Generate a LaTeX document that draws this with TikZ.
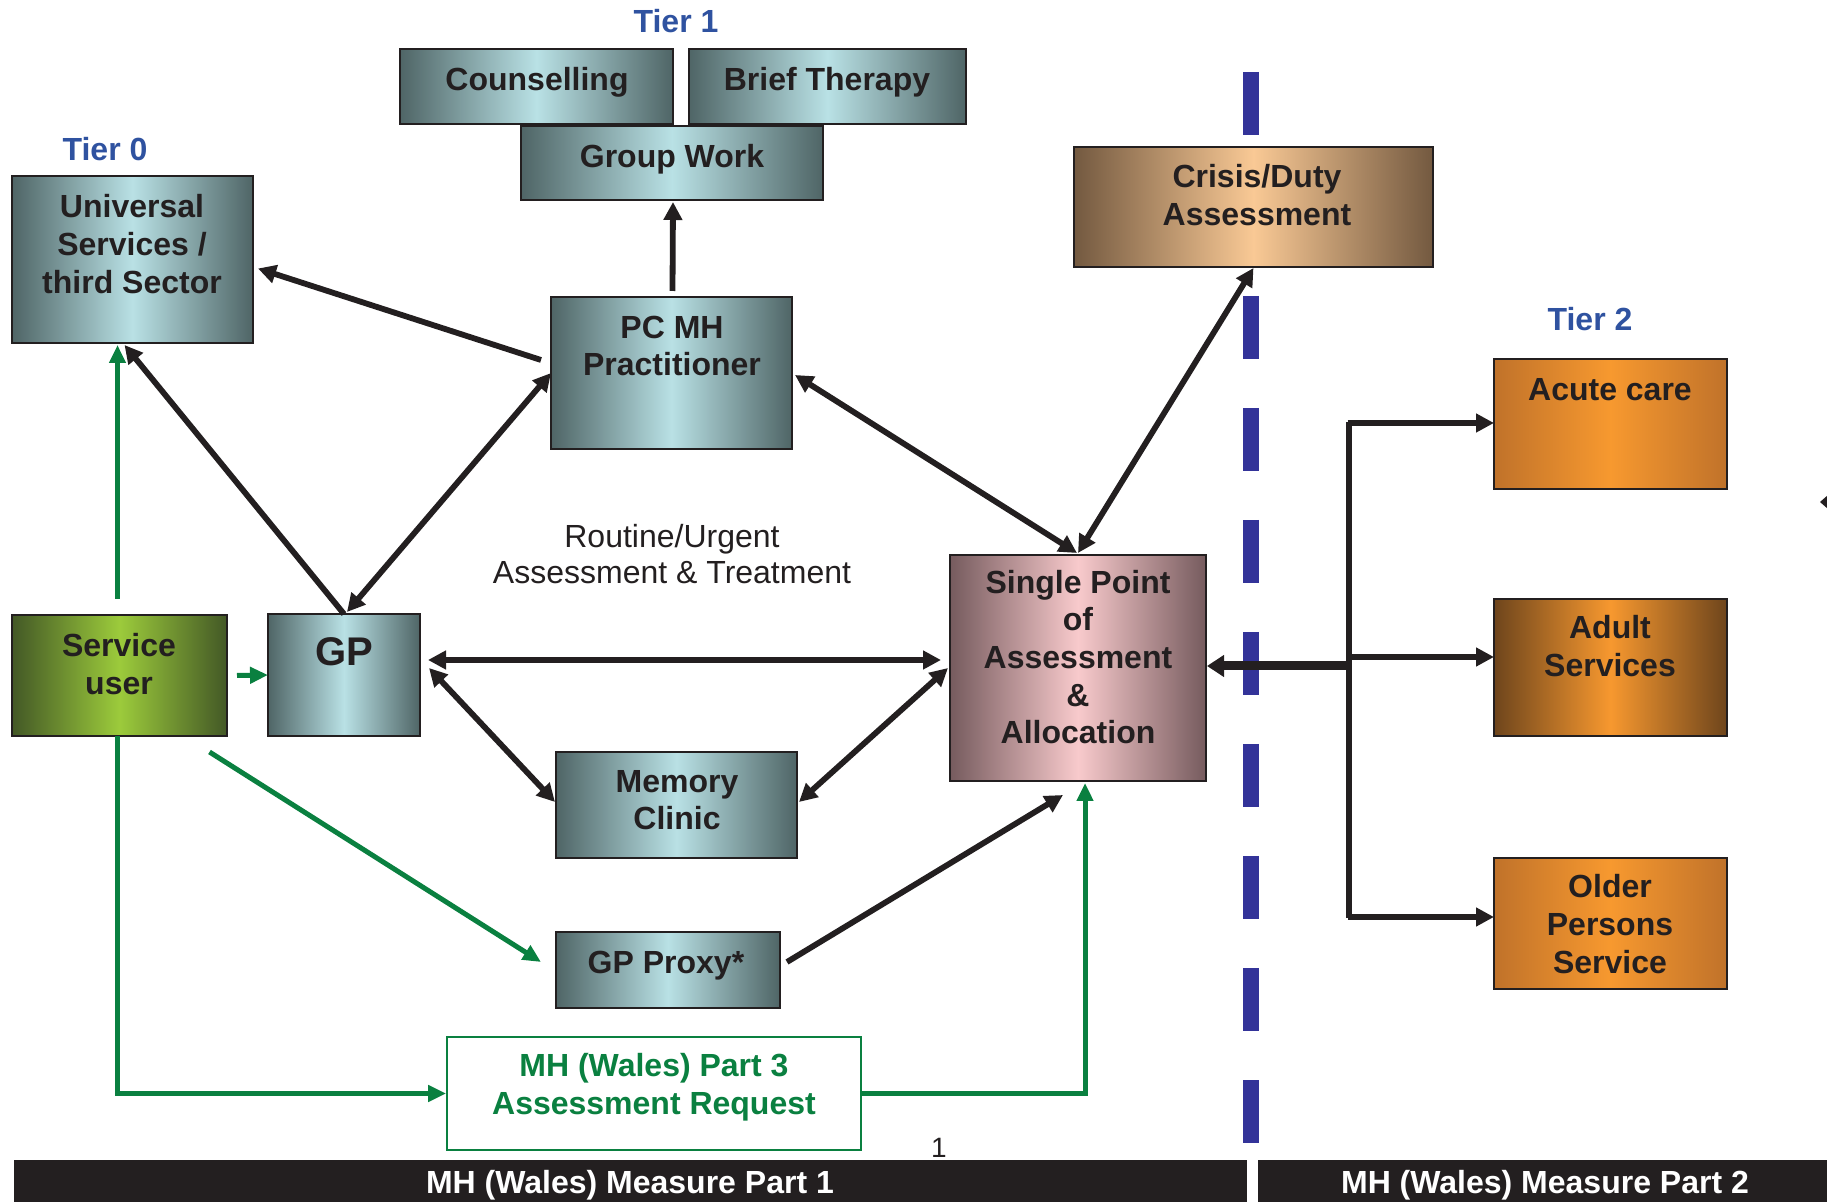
\documentclass[tikz,border=0pt]{standalone}
\usepackage{fontspec}
\setmainfont{Liberation Sans}
\usetikzlibrary{arrows.meta,fit,calc}
\definecolor{ink}{HTML}{231F20}
\definecolor{tdark}{HTML}{4F6566}
\definecolor{tlight}{HTML}{B9E1E5}
\definecolor{cdark}{HTML}{735940}
\definecolor{clight}{HTML}{F9C995}
\definecolor{sdark}{HTML}{765B5E}
\definecolor{slight}{HTML}{F8CACC}
\definecolor{udark}{HTML}{435826}
\definecolor{ulight}{HTML}{9CCB3B}
\definecolor{adark}{HTML}{C0722A}
\definecolor{alight}{HTML}{F7992F}
\definecolor{bdark}{HTML}{6E451C}
\definecolor{blight}{HTML}{F7982F}
\definecolor{sgreen}{HTML}{0A8040}
\definecolor{tierblue}{HTML}{2F52A0}
\definecolor{dashblue}{HTML}{333399}
\begin{document}
\begin{tikzpicture}[x=0.5pt,y=-0.5pt,
  box/.style={draw=ink, line width=1pt, inner sep=0pt, outer sep=0pt},
  tealbox/.style={box, left color=tdark, right color=tdark, middle color=tlight},
  crisisbox/.style={box, left color=cdark, right color=cdark, middle color=clight},
  spoabox/.style={box, left color=sdark, right color=sdark, middle color=slight},
  userbox/.style={box, left color=udark, right color=udark, middle color=ulight},
  orangebox/.style={box, left color=adark, right color=adark, middle color=alight},
  brownbox/.style={box, left color=bdark, right color=bdark, middle color=blight},
  lbl/.style={font=\bfseries\fontsize{16}{18.8}\selectfont, text=ink, align=center, inner sep=0pt},
  tier/.style={font=\bfseries\fontsize{16}{19}\selectfont, text=tierblue, inner sep=0pt},
  arr/.style={draw=ink, line width=2.9pt, -{Triangle[length=9pt,width=9pt]}},
  darr/.style={draw=ink, line width=2.9pt, {Triangle[length=9pt,width=9pt]}-{Triangle[length=9pt,width=9pt]}},
  garr/.style={draw=sgreen, line width=2.5pt, -{Triangle[length=9pt,width=8pt]}},
  busline/.style={draw=ink, line width=2.6pt},
  thickarr/.style={draw=ink, line width=4.5pt, -{Triangle[length=8.5pt,width=10.5pt]}}
]
\useasboundingbox (0,0) rectangle (1827,1202);

% dashed divider
\draw[dashblue, line width=8pt, dash pattern=on 31.5pt off 24.5pt] (1251,72) -- (1251,1143);

% boxes
\node[tealbox, fit={(400,49)(673,124)}] (cou) {};
\node[tealbox, fit={(689,49)(966,124)}] (brief) {};
\node[tealbox, fit={(521,126)(823,200)}] (group) {};
\node[tealbox, fit={(12,176)(253,343)}] (univ) {};
\node[tealbox, fit={(551,297)(792,449)}] (pcmh) {};
\node[crisisbox, fit={(1074,147)(1433,267)}] (crisis) {};
\node[orangebox, fit={(1494,359)(1727,489)}] (acute) {};
\node[brownbox, fit={(1494,599)(1727,736)}] (adult) {};
\node[orangebox, fit={(1494,858)(1727,989)}] (older) {};
\node[spoabox, fit={(950,555)(1206,781)}] (spoa) {};
\node[userbox, fit={(12,615)(227,736)}] (su) {};
\node[tealbox, fit={(268,614)(420,736)}] (gp) {};
\node[tealbox, fit={(556,752)(797,858)}] (mem) {};
\node[tealbox, fit={(556,932)(780,1008)}] (proxy) {};
\node[draw=sgreen, line width=0.8pt, fill=white, inner sep=0pt, fit={(447,1037)(861,1150)}] (p3) {};
\node[fill=ink, inner sep=0pt, fit={(14,1160)(1247,1202)}] (bar1) {};
\node[fill=ink, inner sep=0pt, fit={(1258,1160)(1827,1202)}] (bar2) {};

% texts
\node[tier] (t1) at (676,21) {Tier 1};
\node[tier] (t0) at (105,149) {Tier 0};
\node[tier] (t2) at (1590,319) {Tier 2};
\node[lbl] (coutxt) at (537,82) {Counselling};
\node[lbl] (brieftxt) at (827,82) {Brief Therapy};
\node[lbl] (grouptxt) at (672,159) {Group Work};
\node[lbl] (univtxt) at (132,244) {Universal\\Services /\\third Sector};
\node[lbl] (pcmhtxt) at (672,346) {PC MH\\Practitioner};
\node[lbl] (crisistxt) at (1257,195) {Crisis/Duty\\Assessment};
\node[lbl] (acutetxt) at (1610,390) {Acute care};
\node[lbl] (adulttxt) at (1610,646) {Adult\\Services};
\node[lbl] (oldertxt) at (1610,924) {Older\\Persons\\Service};
\node[lbl] (spoatxt) at (1078,657) {Single Point\\of\\Assessment\\\&\\Allocation};
\node[lbl] (sutxt) at (119,664) {Service\\user};
\node[lbl, font=\bfseries\fontsize{20}{24}\selectfont] (gptxt) at (344,652) {GP};
\node[lbl] (memtxt) at (677,800) {Memory\\Clinic};
\node[lbl] (proxytxt) at (666,966) {GP Proxy*};
\node[lbl, text=sgreen] (p3txt) at (654,1087) {MH (Wales) Part 3\\Assessment Request};
\node[lbl, font=\fontsize{16}{18}\selectfont] (routine) at (672,554) {Routine/Urgent\\Assessment \& Treatment};
\node[inner sep=0pt, font=\fontsize{14}{16}\selectfont, text=ink] (pagenum) at (939,1148) {1};
\node[lbl, text=white] (bar1txt) at (630,1185) {MH (Wales) Measure Part 1};
\node[lbl, text=white] (bar2txt) at (1545,1185) {MH (Wales) Measure Part 2};

% black connectors
\draw[arr] ($(pcmh.north)+(1,-6)$) -- ($(group.south)+(1,2)$);
\draw[arr] ($(pcmh.west)+(-10,-13)$) -- ($(univ.east)+(5,9)$);
\draw[arr] (gp.north) -- ($(univ.south)+(-8,2)$);
\draw[darr] (pcmh.west) -- ($(gp.north)+(3,-2)$);
\draw[darr] ($(pcmh.east)+(3,2)$) -- ($(spoa.north)+(-1,-2)$);
\draw[darr] ($(crisis.south)+(0,1)$) -- ($(spoa.north)+(0,-2)$);
\coordinate (h1) at ($(gp.east)+(8,-15)$);
\draw[darr] (h1) -- ($(h1 -| spoa.west)+(-9,0)$);
\draw[darr] ($(gp.east)+(9,-7)$) -- ($(mem.west)+(-1,-3)$);
\draw[darr] ($(spoa.west)+(-2,0)$) -- ($(mem.east)+(2,-3)$);
\draw[arr] ($(proxy.east)+(7,-8)$) -- ($(spoa.south)+(-15,14)$);

% green connectors
\coordinate (g1) at ($(su.north)+(-2,-16)$);
\draw[garr] (g1) -- ($(g1 |- univ.south)+(0,2)$);
\draw[garr] ($(su.east)+(10,0)$) -- (gp.west);
\draw[garr] ($(su.south)+(90,16)$) -- ($(proxy.west)+(-15,-8)$);
\draw[garr] ($(su.south)+(-2,0)$) |- (p3.west);
\draw[garr] (p3.east) -| ($(spoa.south)+(7,2)$);

% right bus
\coordinate (b1) at (1349,423);
\coordinate (b2) at (1349,657);
\coordinate (b3) at (1349,917);
\coordinate (b0) at (1349,666);
\draw[busline] ($(b1)+(0,-1.4)$) -- ($(b3)+(0,1.4)$);
\draw[arr] ($(b1)+(-1.3,0)$) -- (b1 -| acute.west);
\draw[arr] ($(b2)+(-1.3,0)$) -- (b2 -| adult.west);
\draw[arr] ($(b3)+(-1.3,0)$) -- (b3 -| older.west);
\draw[thickarr] (b0) -- ($(b0 -| spoa.east)+(1,0)$);

% cut-off arrow tip at right edge
\fill[ink] (1820,502) -- (1828,495) -- (1828,509) -- cycle;
\end{tikzpicture}
\end{document}
